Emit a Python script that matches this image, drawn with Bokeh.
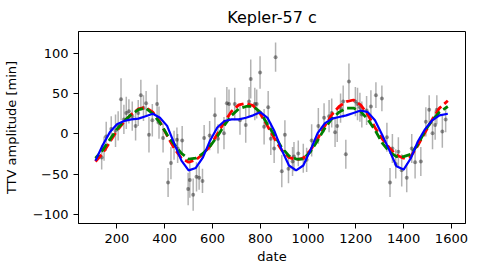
from bokeh.plotting import figure
from bokeh.models import ColumnDataSource, Range1d, FixedTicker
from bokeh.embed import file_html
from bokeh.resources import INLINE

# ---- observed transit timing variations (date, value, error) ----
obs_date = [136, 146, 155, 176, 194, 205, 217, 229, 239, 250, 264, 278, 289, 300, 311, 322,
            334, 348, 368, 376, 393, 414, 426, 439, 451, 454, 473, 498, 505, 519, 533, 544,
            558, 565, 588, 610, 623, 648, 660, 669, 693, 715, 739, 753, 760, 777, 785, 799,
            816, 833, 844, 858, 864, 890, 903, 918, 935, 941, 959, 980, 994, 1015, 1043, 1067,
            1088, 1099, 1113, 1122, 1136, 1147, 1158, 1171, 1198, 1207, 1217, 1225, 1245, 1263,
            1284, 1309, 1330, 1343, 1353, 1367, 1378, 1392, 1413, 1434, 1448, 1472, 1493, 1507,
            1521, 1532, 1539, 1562, 1576]
obs_ttv = [-29, -18, -3, 6, 4, 10, 43, 18, 26, 28, 22, 10, 26, 48, 32, 38,
           -1, 17, 37, 14, -5, -60, -36, -14, -7, -18, -8, -68, -57, -75, -53, -54,
           -58, -5, -2, 23, -6, 1, 38, 37, 37, 17, 11, 40, 68, 37, 37, 76,
           9, 33, -6, -18, 95, -46, -1, -43, -34, -28, -24, -30, -32, -8, 10, 20,
           22, 26, 2, 10, 32, 40, -25, 65, 40, 37, 33, 24, 29, 34,
           48, 44, -4, -60, -18, -37, -22, -45, -54, -18, -35, -34, 15, 30,
           1, 11, 30, 3, 18]
obs_err = [15, 15, 18, 16, 20, 18, 26, 18, 20, 15, 18, 18, 16, 19, 16, 15,
           22, 20, 24, 20, 18, 18, 20, 18, 15, 18, 18, 20, 22, 20, 18, 15,
           15, 16, 18, 22, 18, 20, 20, 18, 20, 18, 22, 18, 24, 20, 18, 20,
           22, 20, 20, 18, 18, 20, 18, 18, 18, 18, 16, 18, 15, 20, 22, 18,
           20, 18, 18, 20, 18, 20, 18, 22, 18, 20, 18, 16, 18, 20,
           16, 16, 18, 18, 18, 18, 18, 20, 18, 18, 20, 18, 18, 18,
           20, 18, 18, 20, 16]

# ---- model curves sampled on a date grid ----
model_date = [110, 140, 170, 200, 230, 260, 290, 320, 350, 380, 410, 440, 470, 500, 530, 560,
              590, 620, 650, 680, 710, 740, 770, 800, 830, 860, 890, 920, 950, 980, 1010, 1040,
              1070, 1100, 1130, 1160, 1190, 1220, 1250, 1280, 1310, 1340, 1370, 1400, 1430, 1460,
              1490, 1520, 1550, 1585]
model_red = [-34, -24, -10, 4, 15, 24, 31, 33, 27, 15, -2, -18, -30, -35, -32, -25,
             -15, 0, 15, 28, 36, 38, 35, 25, 10, -6, -20, -29, -32, -30, -20, -6,
             10, 24, 34, 40, 42, 36, 24, 8, -6, -17, -26, -30, -28, -14,
             2, 18, 32, 41]
model_green = [-30, -20, -7, 6, 16, 24, 30, 32, 25, 14, -1, -13, -24, -31, -30, -24,
               -15, -3, 11, 23, 31, 34, 34, 27, 12, -2, -17, -27, -31, -31, -22, -8,
               7, 19, 27, 32, 32, 28, 18, 5, -11, -22, -28, -28, -25, -13,
               4, 17, 27, 34]
model_blue = [-33, -14, 2, 12, 16, 18, 19, 22, 25, 20, 10, -12, -33, -45, -42, -29,
              -8, 8, 16, 18, 18, 20, 23, 27, 20, 3, -20, -39, -45, -39, -20, 1,
              13, 19, 21, 23, 26, 29, 27, 17, -1, -20, -40, -44, -30, -9,
              6, 17, 23, 25]

x_ticks = [200, 400, 600, 800, 1000, 1200, 1400, 1600]
y_ticks = [-100, -50, 0, 50, 100]

FONT = "DejaVu Sans"

p = figure(width=470, height=268, output_backend="svg", toolbar_location=None,
           x_range=Range1d(39, 1659), y_range=Range1d(-110.7, 126.7),
           min_border_left=78, min_border_right=5, min_border_top=30, min_border_bottom=45,
           title="Kepler-57 c")

p.title.text_font = FONT
p.title.text_font_size = "16px"
p.title.text_font_style = "normal"
p.title.align = "center"
p.title.text_color = "black"
p.title.standoff = 10

p.grid.visible = False
p.outline_line_color = "black"
p.outline_line_alpha = 1
p.outline_line_width = 1
p.background_fill_color = "white"
p.border_fill_color = "white"

for ax in (p.xaxis[0], p.yaxis[0]):
    ax.major_tick_out = 5
    ax.major_tick_in = 0
    ax.minor_tick_out = 0
    ax.minor_tick_in = 0
    ax.major_tick_line_color = "black"
    ax.axis_line_color = "black"
    ax.major_label_text_font = FONT
    ax.major_label_text_font_size = "13px"
    ax.major_label_text_color = "black"
    ax.axis_label_text_font = FONT
    ax.axis_label_text_font_size = "13px"
    ax.axis_label_text_font_style = "normal"
    ax.axis_label_text_color = "black"
    ax.major_label_standoff = 5

p.xaxis.ticker = FixedTicker(ticks=x_ticks)
p.yaxis.ticker = FixedTicker(ticks=y_ticks)
p.yaxis.major_label_overrides = {t: (str(t).replace("-", "\u2212")) for t in y_ticks}
p.xaxis.axis_label = "date"
p.yaxis.axis_label = "TTV amplitude [min]"
p.xaxis.axis_label_standoff = 3
p.yaxis.axis_label_standoff = 11

src = ColumnDataSource(dict(
    x=obs_date, y=obs_ttv,
    lo=[v - e for v, e in zip(obs_ttv, obs_err)],
    hi=[v + e for v, e in zip(obs_ttv, obs_err)],
))
p.segment(x0="x", y0="lo", x1="x", y1="hi", source=src, line_color="black",
          line_alpha=0.3, line_width=1.5)
p.scatter(x="x", y="y", source=src, size=4, fill_color="black", fill_alpha=0.4,
          line_color=None)

p.line(model_date, model_red, line_color="red", line_width=2.8, line_dash="9 4")
p.line(model_date, model_green, line_color="green", line_width=2.8, line_dash="9 4",
       line_dash_offset=4)
p.line(model_date, model_blue, line_color="blue", line_width=2.2)

open("out.html", "w").write(file_html(p, INLINE))
